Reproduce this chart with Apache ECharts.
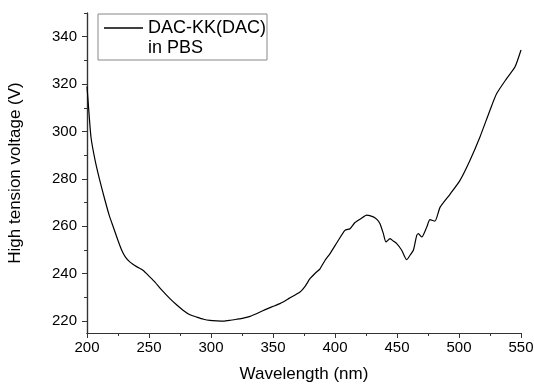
<!DOCTYPE html>
<html>
<head>
<meta charset="utf-8">
<script src="https://cdn.jsdelivr.net/npm/echarts@6/dist/echarts.min.js"></script>
<style>
  html, body { margin: 0; padding: 0; background: #fff; }
  #chart { width: 534px; height: 385px; }
</style>
</head>
<body>
<div id="chart"></div>
<script>
// wavelength (nm) and high tension voltage (V)
const wavelength = [200, 201, 203.2, 206.5, 210, 214.5, 218, 221.2, 225, 228, 231, 234.7, 240, 245.4, 250, 254.8, 260, 266.9, 272, 277.7, 283, 288.5, 294, 299.2, 305, 310, 315, 320.7, 326, 331.5, 337, 342.2, 349, 355.6, 363, 371.8, 376, 379.8, 384, 387.9, 391.9, 396, 402, 408, 412.1, 416.1, 421, 425.6, 430.9, 434, 436.3, 439, 441.1, 444.4, 447, 449.8, 453.8, 457.8, 460.5, 463.2, 465.9, 467.2, 470, 474, 476.6, 480.6, 484.7, 492.7, 500.8, 508.9, 516.9, 525, 530.4, 538.5, 545.2, 550]
const voltage = [319, 312, 297.7, 287.9, 280, 271, 264.5, 259.7, 254, 249.9, 247, 244.9, 243, 241.4, 239, 236.5, 233.3, 229.5, 227, 224.5, 222.7, 221.7, 220.8, 220.3, 220.1, 220, 220.3, 220.8, 221.3, 222, 223.2, 224.5, 226, 227.4, 229.6, 232.3, 234.8, 237.9, 240.2, 242.1, 245.6, 248.5, 253.5, 258.3, 259, 261.6, 263.3, 264.7, 264, 262.8, 261.1, 256.9, 253.4, 254.8, 253.8, 252.7, 249.9, 245.9, 247.8, 249.9, 256.2, 256.9, 255.5, 259.7, 262.8, 262.2, 268, 273.5, 279.4, 287.9, 297.7, 309, 316, 322.4, 327.3, 334.4]

const seriesName = 'DAC-KK(DAC)'
const legendSecondLine = 'in PBS'
const xTicks = [200, 250, 300, 350, 400, 450, 500, 550]
const xMinorTicks = [225, 275, 325, 375, 425, 475, 525]
const yTicks = [220, 240, 260, 280, 300, 320, 340]
const yMinorTicks = [230, 250, 270, 290, 310, 330, 350]

const chart = echarts.init(document.getElementById('chart'))

const font = 'Liberation Sans, Arial, sans-serif'
const axisColor = '#333'

const baseY = {
  type: 'value',
  min: 215,
  max: 350,
  splitLine: { show: false },
  axisLine: { show: true, lineStyle: { color: axisColor, width: 1.2 } }
}
const baseX = {
  type: 'value',
  min: 200,
  max: 550,
  splitLine: { show: false },
  axisLine: { show: true, onZero: false, lineStyle: { color: axisColor, width: 1.2 } }
}

const option = {
  animation: false,
  grid: { left: 87, right: 13, top: 13, bottom: 52, outerBoundsMode: 'none' },
  legend: {
    show: true,
    left: 98,
    top: 14,
    padding: [5, 1, 23, 6],
    borderColor: '#888',
    borderWidth: 1,
    icon: 'rect',
    itemWidth: 39,
    itemHeight: 1.3,
    itemStyle: { color: '#000' },
    textStyle: { fontFamily: font, fontSize: 18, color: '#000' },
    data: [seriesName]
  },
  graphic: [{
    type: 'text',
    left: 148,
    top: 39,
    style: { text: legendSecondLine, font: '18px ' + font, fill: '#000' }
  }],
  xAxis: [
    Object.assign({}, baseX, {
      name: 'Wavelength (nm)',
      nameLocation: 'middle',
      nameGap: 33,
      nameTextStyle: { fontFamily: font, fontSize: 17, color: '#000' },
      axisTick: { show: true, length: 5, customValues: xTicks, lineStyle: { color: axisColor } },
      axisLabel: { customValues: xTicks, fontFamily: font, fontSize: 15, color: '#000', margin: 7 }
    }),
    Object.assign({}, baseX, {
      position: 'bottom',
      axisTick: { show: true, length: 3, customValues: xMinorTicks, lineStyle: { color: axisColor } },
      axisLabel: { show: false }
    })
  ],
  yAxis: [
    Object.assign({}, baseY, {
      name: 'High tension voltage (V)',
      nameLocation: 'middle',
      nameGap: 63,
      nameTextStyle: { fontFamily: font, fontSize: 17, color: '#000' },
      axisTick: { show: true, length: 5, customValues: yTicks, lineStyle: { color: axisColor } },
      axisLabel: { customValues: yTicks, fontFamily: font, fontSize: 15, color: '#000', margin: 10 }
    }),
    Object.assign({}, baseY, {
      position: 'left',
      axisTick: { show: true, length: 3, customValues: yMinorTicks, lineStyle: { color: axisColor } },
      axisLabel: { show: false }
    })
  ],
  series: [{
    name: seriesName,
    type: 'line',
    symbol: 'none',
    data: wavelength.map((w, i) => [w, voltage[i]]),
    smooth: 0.2,
    lineStyle: { color: '#000', width: 1.2 },
    itemStyle: { color: '#000' }
  }]
}

chart.setOption(option)
</script>
</body>
</html>
